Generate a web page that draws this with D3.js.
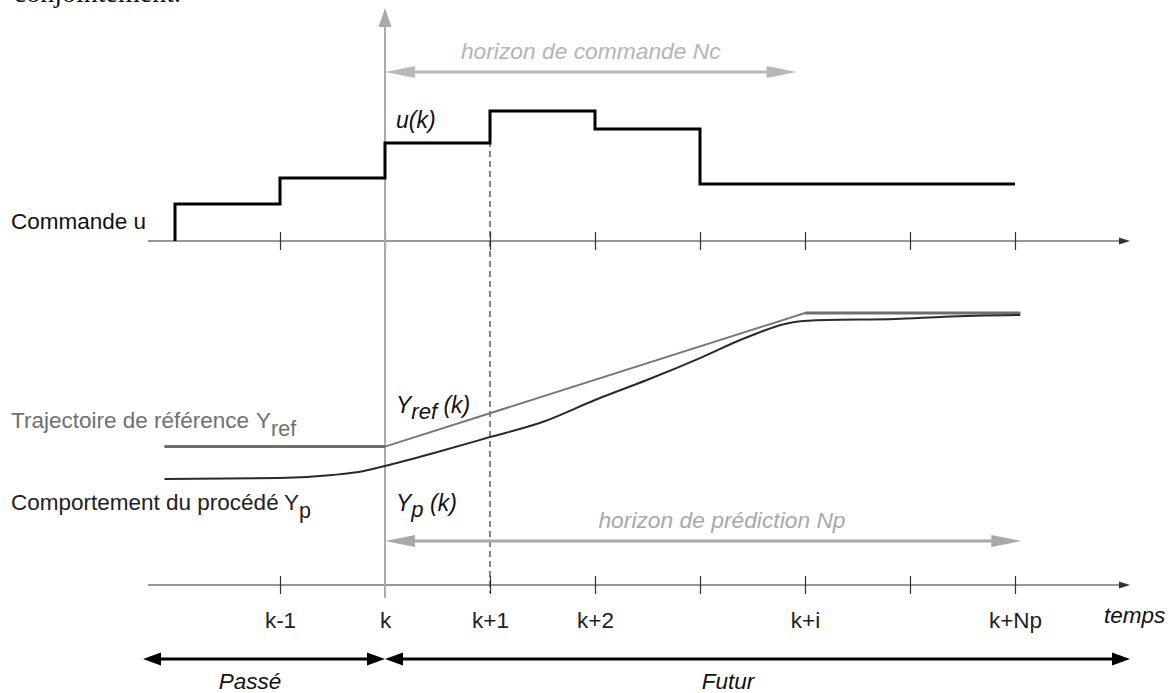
<!DOCTYPE html>
<html>
<head>
<meta charset="utf-8">
<script src="https://cdn.jsdelivr.net/npm/d3@7"></script>
<style>
  body { margin: 0; background: #fff; }
  svg text { font-family: 'Liberation Sans', Arial, sans-serif; }
</style>
</head>
<body>
<svg id="chart"></svg>
<script>
// time steps (in sampling periods, k = 0)
const tickSteps = [-1, 0, 1, 2, 3, 4, 5, 6];
const tickLabels = ['k-1', 'k', 'k+1', 'k+2', '', 'k+i', '', 'k+Np'];

// command u : piecewise constant
const commandSteps = [-2, -1, 0, 1, 2, 3, 6];
const commandValues = [0.285, 0.485, 0.754, 1.0, 0.862, 0.438, 0.438];

// reference trajectory Yref
const refSteps = [-2.1, 0, 4, 6.05];
const refValues = [0.2, 0.2, 1.0, 1.0];

// process output Yp
const processSteps = [-2.1, -1, -0.5, -0.2, 0, 0.5, 1, 1.5, 2, 2.5, 3, 3.43, 3.9, 4.2, 4.86, 5.33, 6.05];
const processValues = [0.006, 0.012, 0.03, 0.054, 0.084, 0.168, 0.257, 0.347, 0.479, 0.6, 0.73, 0.85, 0.946, 0.958, 0.964, 0.978, 0.988];

// horizons and spans (start, end in steps)
const controlHorizon = [0, 3.92];
const predictionHorizon = [0, 6.06];
const pastSpan = [-2.305, 0];
const futureSpan = [0, 7.095];

class MpcDiagram {

  constructor(_config) {
    this.config = {
      parentElement: _config.parentElement,
      containerWidth: _config.containerWidth || 1176,
      containerHeight: _config.containerHeight || 693
    }
    this.initVis();
  }

  initVis() {
    let vis = this;

    vis.svg = d3.select(vis.config.parentElement)
      .attr('width', vis.config.containerWidth)
      .attr('height', vis.config.containerHeight);

    vis.xScale = d3.scaleLinear()
      .domain([(148 - 385) / 105, (1130 - 385) / 105])
      .range([148, 1130]);

    vis.uScale = d3.scaleLinear()
      .domain([0, 1])
      .range([241, 111]);

    vis.yScale = d3.scaleLinear()
      .domain([0, 1])
      .range([480, 313]);

    vis.topAxisY = 241;
    vis.bottomAxisY = 585;

    vis.renderVis();
  }

  arrowHead(x, y, dir, len, w, color) {
    let vis = this;
    let pts;
    if (dir === 'right') pts = [[x, y], [x - len, y - w / 2], [x - len, y + w / 2]];
    if (dir === 'left') pts = [[x, y], [x + len, y - w / 2], [x + len, y + w / 2]];
    if (dir === 'up') pts = [[x, y], [x - w / 2, y + len], [x + w / 2, y + len]];
    vis.svg.append('path')
      .attr('d', 'M' + pts.join('L') + 'Z')
      .attr('fill', color);
  }

  spanArrow(span, y, color, width, len, w) {
    let vis = this;
    let x0 = vis.xScale(span[0]);
    let x1 = vis.xScale(span[1]);
    vis.svg.append('line')
      .attr('x1', x0 + len / 2).attr('x2', x1 - len / 2)
      .attr('y1', y).attr('y2', y)
      .attr('stroke', color)
      .attr('stroke-width', width);
    vis.arrowHead(x0, y, 'left', len, w, color);
    vis.arrowHead(x1, y, 'right', len, w, color);
  }

  renderVis() {
    let vis = this;

    // partial text of the page above
    vis.svg.append('text')
      .attr('x', 181).attr('y', 2)
      .attr('text-anchor', 'end')
      .style('font-family', "'Liberation Serif', serif")
      .style('font-size', '28px')
      .attr('fill', '#111')
      .text('conjointement.');

    // time axes
    const makeAxis = (y, labels, skipK) => {
      let axis = d3.axisBottom(vis.xScale)
        .tickValues(tickSteps)
        .tickSizeInner(0)
        .tickSizeOuter(0)
        .tickPadding(27)
        .tickFormat((d, i) => labels ? tickLabels[i] : '');

      let g = vis.svg.append('g')
        .attr('transform', `translate(0,${y})`)
        .call(axis);

      g.select('.domain')
        .attr('stroke', '#333')
        .attr('stroke-width', 1.2)
        .attr('d', `M${vis.xScale.range()[0]},0H${vis.xScale.range()[1] - 6}`);

      g.selectAll('.tick line')
        .attr('y1', -9).attr('y2', 9)
        .attr('stroke', '#333')
        .attr('stroke-width', 1.2)
        .attr('opacity', d => (skipK && d === 0) ? 0 : 1);

      g.selectAll('.tick text')
        .style('font-size', '22.5px')
        .attr('fill', '#222');

      vis.arrowHead(vis.xScale.range()[1], y, 'right', 11, 7, '#333');
    };

    makeAxis(vis.topAxisY, false, false);
    makeAxis(vis.bottomAxisY, true, true);

    // dashed line at k+1
    vis.svg.append('line')
      .attr('x1', vis.xScale(1)).attr('x2', vis.xScale(1))
      .attr('y1', vis.uScale(1)).attr('y2', vis.bottomAxisY + 8)
      .attr('stroke', '#333')
      .attr('stroke-width', 1.2)
      .attr('stroke-dasharray', '6,4');

    // vertical present-time axis at k
    vis.svg.append('line')
      .attr('x1', vis.xScale(0)).attr('x2', vis.xScale(0))
      .attr('y1', 20).attr('y2', 598)
      .attr('stroke', '#aaa')
      .attr('stroke-width', 2);
    vis.arrowHead(vis.xScale(0), 8, 'up', 19, 13, '#aaa');

    // command u
    let uData = [{t: commandSteps[0], v: 0}].concat(commandSteps.map((t, i) => ({t: t, v: commandValues[i]})));
    vis.svg.append('path')
      .datum(uData)
      .attr('fill', 'none')
      .attr('stroke', '#000')
      .attr('stroke-width', 3)
      .attr('d', d3.line()
        .x(d => vis.xScale(d.t))
        .y(d => vis.uScale(d.v))
        .curve(d3.curveStepAfter));

    // reference trajectory
    let refLine = d3.line()
      .x(d => vis.xScale(d[0]))
      .y(d => vis.yScale(d[1]));
    let refData = refSteps.map((t, i) => [t, refValues[i]]);
    vis.svg.append('path')
      .datum(refData)
      .attr('fill', 'none')
      .attr('stroke', '#777')
      .attr('stroke-width', 2)
      .attr('d', refLine);
    // flat parts drawn thicker
    [[refData[0], refData[1]], [refData[2], refData[3]]].forEach(seg => {
      vis.svg.append('path')
        .datum(seg)
        .attr('fill', 'none')
        .attr('stroke', '#6e6e6e')
        .attr('stroke-width', 3)
        .attr('d', refLine);
    });

    // process output
    vis.svg.append('path')
      .datum(processSteps.map((t, i) => [t, processValues[i]]))
      .attr('fill', 'none')
      .attr('stroke', '#2a2a2a')
      .attr('stroke-width', 2)
      .attr('d', d3.line()
        .x(d => vis.xScale(d[0]))
        .y(d => vis.yScale(d[1]))
        .curve(d3.curveMonotoneX));

    // horizons
    vis.spanArrow(controlHorizon, 72, '#b8b8b8', 3, 30, 12);
    vis.svg.append('text')
      .attr('x', (vis.xScale(controlHorizon[0]) + vis.xScale(controlHorizon[1])) / 2)
      .attr('y', 59)
      .attr('text-anchor', 'middle')
      .style('font-size', '22.8px')
      .style('font-style', 'italic')
      .attr('fill', '#b4b4b4')
      .text('horizon de commande Nc');

    vis.spanArrow(predictionHorizon, 541, '#a8a8a8', 3, 30, 12);
    vis.svg.append('text')
      .attr('x', 722)
      .attr('y', 528)
      .attr('text-anchor', 'middle')
      .style('font-size', '22.8px')
      .style('font-style', 'italic')
      .attr('fill', '#a8a8a8')
      .text('horizon de prédiction Np');

    // past / future
    vis.spanArrow(pastSpan, 659, '#000', 3, 18, 13);
    vis.spanArrow(futureSpan, 659, '#000', 3, 18, 13);
    vis.svg.append('text')
      .attr('x', 250).attr('y', 689)
      .attr('text-anchor', 'middle')
      .style('font-size', '22.5px')
      .style('font-style', 'italic')
      .attr('fill', '#111')
      .text('Passé');
    vis.svg.append('text')
      .attr('x', 728).attr('y', 689)
      .attr('text-anchor', 'middle')
      .style('font-size', '22.5px')
      .style('font-style', 'italic')
      .attr('fill', '#111')
      .text('Futur');
    vis.svg.append('text')
      .attr('x', 1104).attr('y', 623)
      .style('font-size', '22.5px')
      .style('font-style', 'italic')
      .attr('fill', '#111')
      .text('temps');

    // left labels
    vis.svg.append('text')
      .attr('x', 11).attr('y', 229)
      .style('font-size', '22.5px')
      .attr('fill', '#111')
      .text('Commande u');

    let tr = vis.svg.append('text')
      .attr('x', 11).attr('y', 428)
      .style('font-size', '22.5px')
      .attr('fill', '#707070');
    tr.append('tspan').text('Trajectoire de référence');
    tr.append('tspan').attr('x', 256).text('Y');
    tr.append('tspan').attr('dy', 8).style('font-size', '21.5px').text('ref');

    let cp = vis.svg.append('text')
      .attr('x', 11).attr('y', 510)
      .style('font-size', '22.5px')
      .attr('fill', '#222');
    cp.append('tspan').text('Comportement du procédé');
    cp.append('tspan').attr('x', 284).text('Y');
    cp.append('tspan').attr('dy', 8).style('font-size', '21.5px').text('p');

    // labels at k
    vis.svg.append('text')
      .attr('x', 396).attr('y', 128)
      .style('font-size', '23px')
      .style('font-style', 'italic')
      .attr('fill', '#111')
      .text('u(k)');

    let yr = vis.svg.append('text')
      .attr('x', 396).attr('y', 413)
      .style('font-size', '23px')
      .style('font-style', 'italic')
      .attr('fill', '#111');
    yr.append('tspan').text('Y');
    yr.append('tspan').attr('dy', 6).style('font-size', '22px').text('ref');
    yr.append('tspan').attr('dy', -6).text(' (k)');

    let yp = vis.svg.append('text')
      .attr('x', 396).attr('y', 511)
      .style('font-size', '23px')
      .style('font-style', 'italic')
      .attr('fill', '#111');
    yp.append('tspan').text('Y');
    yp.append('tspan').attr('dy', 6).style('font-size', '22px').text('p');
    yp.append('tspan').attr('dy', -6).text(' (k)');
  }

}

new MpcDiagram({parentElement: '#chart'});
</script>
</body>
</html>
